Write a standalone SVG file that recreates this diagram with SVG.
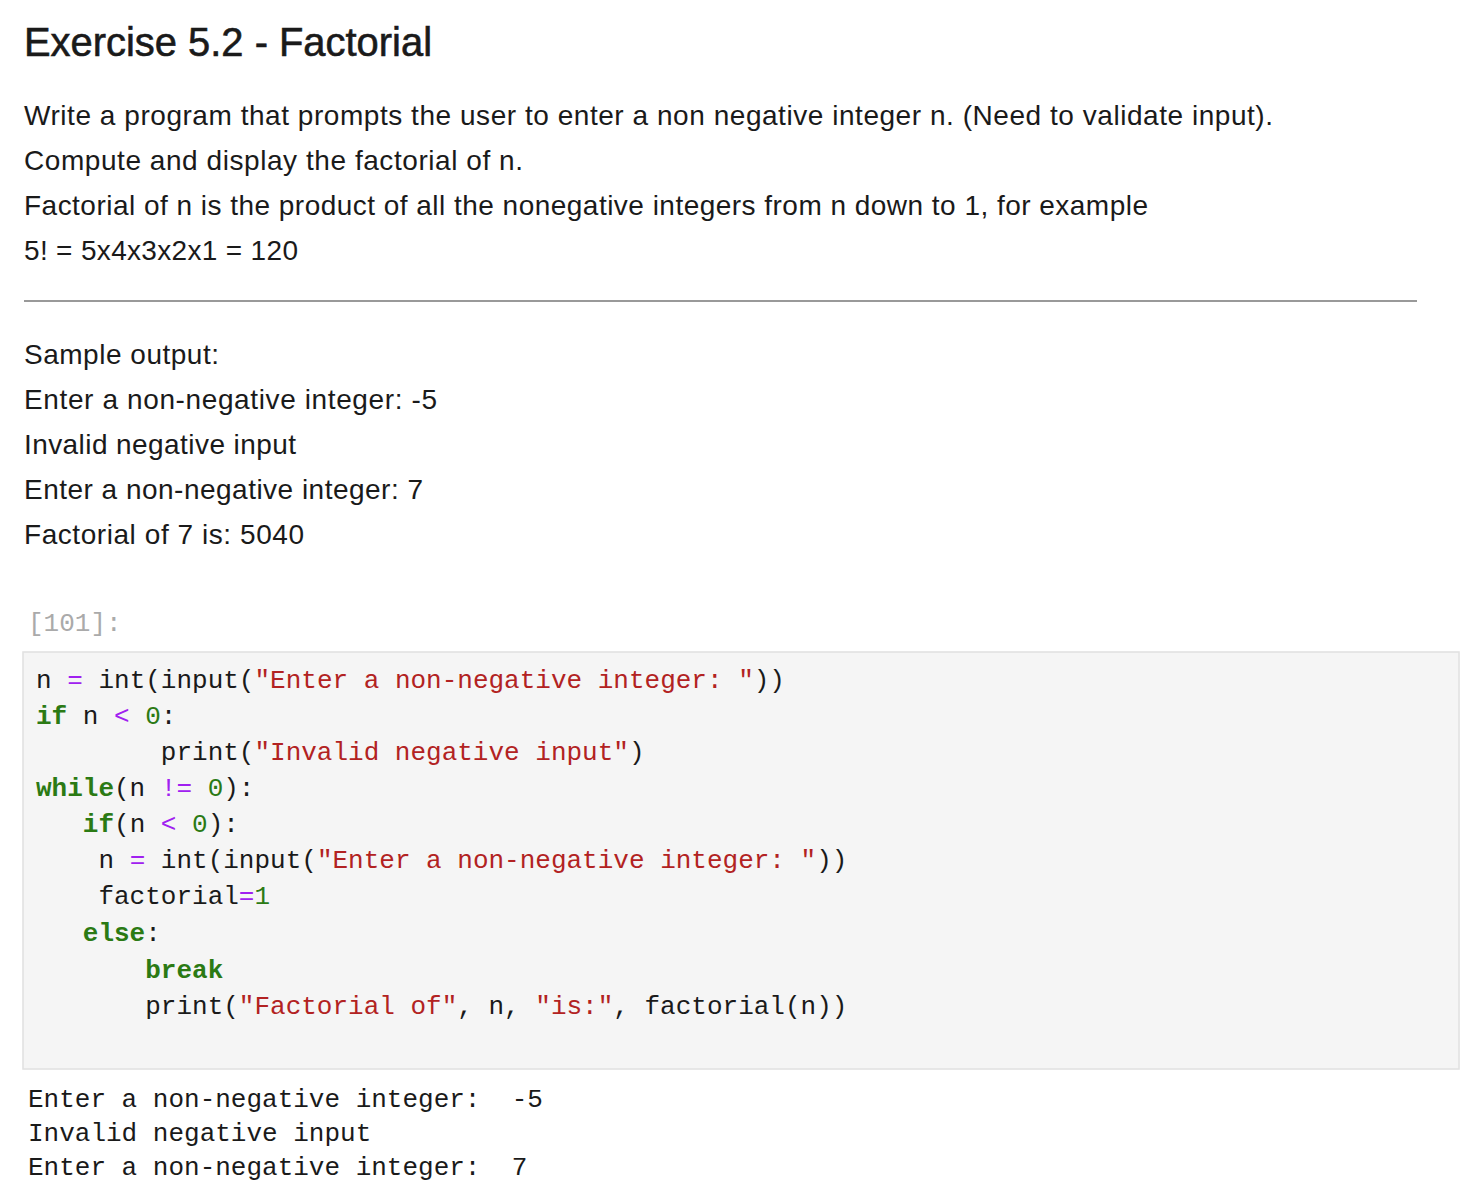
<svg xmlns="http://www.w3.org/2000/svg" width="1478" height="1198" viewBox="0 0 1478 1198">
<style>
.t{font-family:"Liberation Sans",Arial,sans-serif;font-size:28px;fill:#1a1a1a}
.c{font-family:"Liberation Mono","DejaVu Sans Mono",monospace;font-size:26px;fill:#1a1a1a;white-space:pre}
.k{fill:#2b7a14;font-weight:bold}
.s{fill:#b22222}
.o{fill:#a020f0}
.n{fill:#2b7a14}
</style>
<rect width="1478" height="1198" fill="#fff"/>
<text x="24" y="56" font-family="Liberation Sans,Arial,sans-serif" font-size="40" fill="#1a1a1a" stroke="#1a1a1a" stroke-width="0.6" textLength="408" lengthAdjust="spacingAndGlyphs">Exercise 5.2 - Factorial</text>
<text class="t" x="24" y="125" textLength="1249">Write a program that prompts the user to enter a non negative integer n. (Need to validate input).</text>
<text class="t" x="24" y="170" textLength="499">Compute and display the factorial of n.</text>
<text class="t" x="24" y="215" textLength="1124">Factorial of n is the product of all the nonegative integers from n down to 1, for example</text>
<text class="t" x="24" y="260" textLength="274">5! = 5x4x3x2x1 = 120</text>
<line x1="24" y1="301" x2="1417" y2="301" stroke="#999" stroke-width="2"/>
<text class="t" x="24" y="364" textLength="195">Sample output:</text>
<text class="t" x="24" y="409" textLength="413">Enter a non-negative integer: -5</text>
<text class="t" x="24" y="454" textLength="272">Invalid negative input</text>
<text class="t" x="24" y="499" textLength="399">Enter a non-negative integer: 7</text>
<text class="t" x="24" y="544" textLength="280">Factorial of 7 is: 5040</text>
<text class="c" x="28" y="631" style="fill:#aaa">[101]:</text>
<rect x="23" y="652" width="1436" height="417" fill="#f5f5f5" stroke="#e0e0e0" stroke-width="1.5"/>
<g xml:space="preserve">
<text class="c" x="36" y="688">n <tspan class="o">=</tspan> int(input(<tspan class="s">"Enter a non-negative integer: "</tspan>))</text>
<text class="c" x="36" y="724"><tspan class="k">if</tspan> n <tspan class="o">&lt;</tspan> <tspan class="n">0</tspan>:</text>
<text class="c" x="36" y="760">        print(<tspan class="s">"Invalid negative input"</tspan>)</text>
<text class="c" x="36" y="796"><tspan class="k">while</tspan>(n <tspan class="o">!=</tspan> <tspan class="n">0</tspan>):</text>
<text class="c" x="36" y="832">   <tspan class="k">if</tspan>(n <tspan class="o">&lt;</tspan> <tspan class="n">0</tspan>):</text>
<text class="c" x="36" y="868">    n <tspan class="o">=</tspan> int(input(<tspan class="s">"Enter a non-negative integer: "</tspan>))</text>
<text class="c" x="36" y="904">    factorial<tspan class="o">=</tspan><tspan class="n">1</tspan></text>
<text class="c" x="36" y="941">   <tspan class="k">else</tspan>:</text>
<text class="c" x="36" y="978">       <tspan class="k">break</tspan></text>
<text class="c" x="36" y="1014">       print(<tspan class="s">"Factorial of"</tspan>, n, <tspan class="s">"is:"</tspan>, factorial(n))</text>
<text class="c" x="28" y="1107">Enter a non-negative integer:  -5</text>
<text class="c" x="28" y="1141">Invalid negative input</text>
<text class="c" x="28" y="1175">Enter a non-negative integer:  7</text>
</g>
</svg>
